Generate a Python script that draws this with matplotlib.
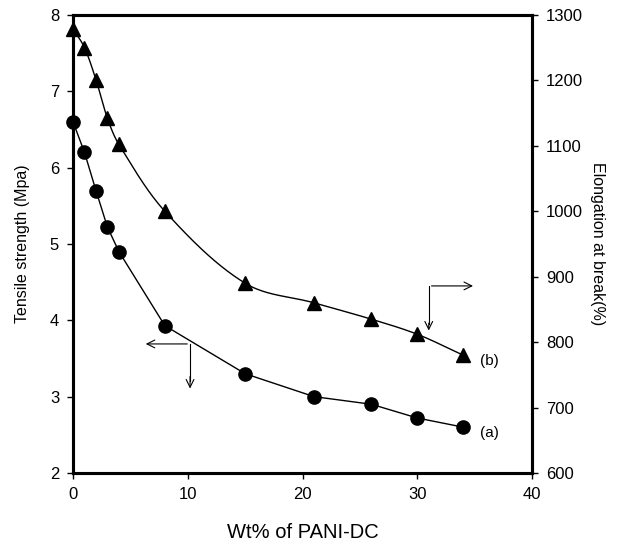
import numpy as np
import matplotlib
matplotlib.use('Agg')
import matplotlib.pyplot as plt

plt.rcParams['font.family'] = ['Liberation Sans', 'DejaVu Sans']

wt = [0, 1, 2, 3, 4, 8, 15, 21, 26, 30, 34]
tensile = [6.6, 6.2, 5.7, 5.22, 4.9, 3.93, 3.3, 3.0, 2.9, 2.72, 2.6]
elong = [1279, 1250, 1201, 1142, 1102, 1000, 890, 860, 835, 812, 780]

def smooth(x, y, xr, yr, n=40, tension=0.5):
    # bezier smoothing done in axes-fraction space (spreadsheet style smoothed line)
    x = (np.asarray(x, float) - xr[0]) / (xr[1] - xr[0])
    y = (np.asarray(y, float) - yr[0]) / (yr[1] - yr[0]) * 0.83
    P = np.column_stack([x, y])
    m = len(P)
    T = np.zeros_like(P)
    T[0] = P[1] - P[0]
    T[-1] = P[-1] - P[-2]
    T[1:-1] = (P[2:] - P[:-2]) / 2
    t = np.linspace(0, 1, n)[:, None]
    out = []
    for i in range(m - 1):
        p0, p3 = P[i], P[i+1]
        d = np.linalg.norm(p3 - p0)
        t0 = T[i] / (np.linalg.norm(T[i]) + 1e-12) * d * tension * 2 / 3
        t1 = T[i+1] / (np.linalg.norm(T[i+1]) + 1e-12) * d * tension * 2 / 3
        p1, p2 = p0 + t0, p3 - t1
        out.append((1-t)**3*p0 + 3*(1-t)**2*t*p1 + 3*(1-t)*t**2*p2 + t**3*p3)
    out = np.vstack(out)
    return out[:, 0]*(xr[1]-xr[0]) + xr[0], out[:, 1]/0.83*(yr[1]-yr[0]) + yr[0]

fig = plt.figure(figsize=(6.24, 5.43), dpi=100)
ax = fig.add_axes([0.117, 0.129, 0.7356, 0.8435])
ax2 = ax.twinx()

ax.plot(wt, tensile, '-o', color='black', lw=1.0, ms=9.5, clip_on=False, zorder=5)

ex, ey = smooth(wt, elong, (0, 40), (600, 1300))
ax2.plot(ex, ey, color='black', lw=1.0)
ax2.plot(wt, elong, '^', color='black', ms=9.5, clip_on=False, zorder=5)

ax.set_xlim(0, 40)
ax.set_ylim(2, 8)
ax2.set_ylim(600, 1300)
ax.set_xticks([0, 10, 20, 30, 40])
ax.set_yticks([2, 3, 4, 5, 6, 7, 8])
ax2.set_yticks([600, 700, 800, 900, 1000, 1100, 1200, 1300])

for a in (ax, ax2):
    for s in a.spines.values():
        s.set_linewidth(2.2)
    a.tick_params(direction='out', length=4, width=1, labelsize=12, pad=6)

ax.set_xlabel('Wt% of PANI-DC', fontsize=14.5, labelpad=15)
ax.set_ylabel('Tensile strength (Mpa)', fontsize=11.5, labelpad=14)
ax2.set_ylabel('Elongation at break(%)', fontsize=11.5, rotation=270, labelpad=16)

arw = dict(arrowstyle='->', color='black', lw=0.8, mutation_scale=14)
ax.plot([10.2, 10.2], [3.69, 3.2], color='black', lw=0.8)
ax.annotate('', xy=(6.1, 3.69), xytext=(10.2, 3.69), arrowprops=arw)
ax.annotate('', xy=(10.2, 3.07), xytext=(10.2, 3.3), arrowprops=arw)
ax.plot([31.0, 31.0], [4.45, 3.95], color='black', lw=0.8)
ax.annotate('', xy=(35.1, 4.45), xytext=(31.0, 4.45), arrowprops=arw)
ax.annotate('', xy=(31.0, 3.83), xytext=(31.0, 4.0), arrowprops=arw)

ax.text(35.5, 3.47, '(b)', fontsize=11, va='center')
ax.text(35.5, 2.52, '(a)', fontsize=11, va='center')

fig.savefig('out.png', dpi=100)
